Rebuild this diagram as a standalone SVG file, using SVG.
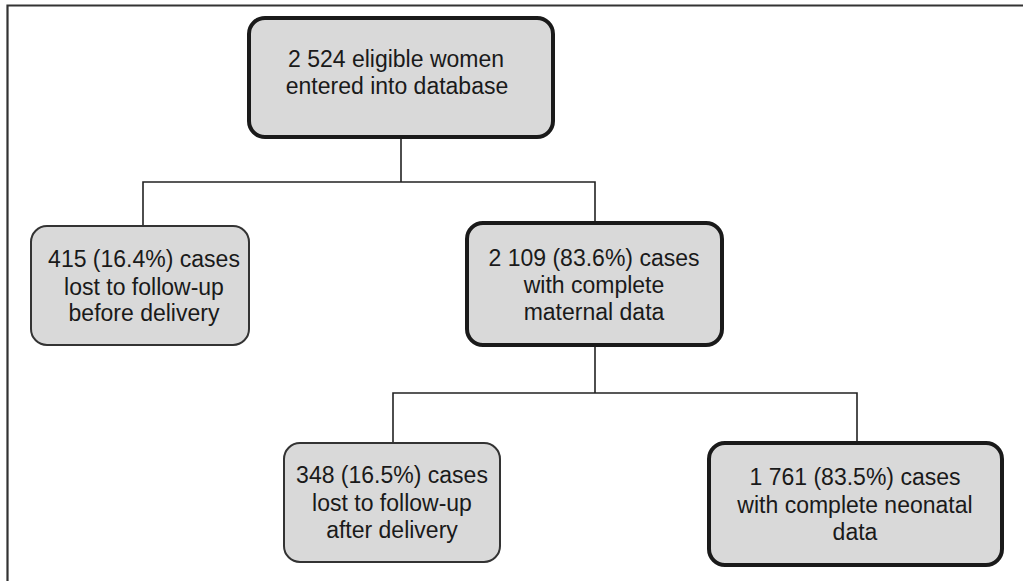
<svg xmlns="http://www.w3.org/2000/svg" width="1023" height="581" viewBox="0 0 1023 581">
<style>
.box{fill:#d9d9d9;stroke:#1a1a1a}
.thick{stroke-width:4}
.thin{stroke-width:2;stroke:#333}
.lbl{font-family:"Liberation Sans",Arial,sans-serif;font-size:23px;fill:#1a1a1a;text-anchor:middle}
.con{fill:none;stroke:#222;stroke-width:1.6}
</style>
<rect width="1023" height="581" fill="#fff"/>
<path d="M7.5,581 V5.5 H1023" fill="none" stroke="#333" stroke-width="2.2"/>
<g id="connectors">
<path class="con" d="M401,138 V182 M143,225 V182 H595 V222"/>
<path class="con" d="M595,346 V393 M393,442 V393 H857 V442"/>
</g>
<g id="n1">
<rect class="box thick" x="249" y="18" width="304" height="119" rx="16"/>
<text class="lbl" x="396" y="67">2 524 eligible women</text>
<text class="lbl" x="397" y="94">entered into database</text>
</g>
<g id="n2">
<rect class="box thin" x="31" y="226" width="218" height="119" rx="16"/>
<text class="lbl" x="144" y="267">415 (16.4%) cases</text>
<text class="lbl" x="144" y="295">lost to follow-up</text>
<text class="lbl" x="144" y="321">before delivery</text>
</g>
<g id="n3">
<rect class="box thick" x="467" y="223" width="255" height="122" rx="16"/>
<text class="lbl" x="594" y="266">2 109 (83.6%) cases</text>
<text class="lbl" x="594" y="293">with complete</text>
<text class="lbl" x="594" y="320">maternal data</text>
</g>
<g id="n4">
<rect class="box thin" x="284" y="443" width="216" height="119" rx="16"/>
<text class="lbl" x="392" y="483">348 (16.5%) cases</text>
<text class="lbl" x="392" y="511">lost to follow-up</text>
<text class="lbl" x="392" y="538">after delivery</text>
</g>
<g id="n5">
<rect class="box thick" x="709" y="443" width="293" height="122" rx="16"/>
<text class="lbl" x="855" y="485">1 761 (83.5%) cases</text>
<text class="lbl" x="855" y="513">with complete neonatal</text>
<text class="lbl" x="855" y="540">data</text>
</g>
</svg>
